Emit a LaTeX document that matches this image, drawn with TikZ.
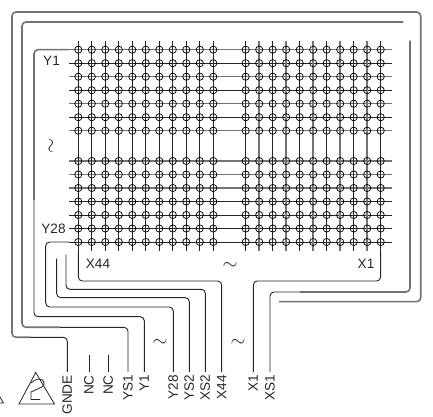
\documentclass[tikz,border=0pt]{standalone}
\usepackage{fontspec}
\setmainfont{Liberation Sans}

\tikzset{
    pad/.style={circle, draw, inner sep=0pt, minimum size=5.4pt, line width=0.55pt},
    wire/.style={draw=black!85, line width=0.7pt, rounded corners=3pt},
    heavywire/.style={draw=black!55, line width=1.2pt, rounded corners=3pt},
    pin/.style={rotate=90, anchor=east, inner sep=2.25pt, font=\fontsize{10.2pt}{11pt}\selectfont, text=black!85},
    tag/.style={inner sep=0pt, font=\fontsize{10.2pt}{11pt}\selectfont, text=black!85},
    wave/.style={inner sep=0pt, font=\fontsize{15pt}{15pt}\selectfont, text=black!85},
}

\begin{document}
\begin{tikzpicture}[x=0.75pt, y=-0.75pt]
    \useasboundingbox (0, 0) rectangle (433, 417);

    % matrix lines and pads
    \foreach \row/\rowstyle in {0/heavywire, 1/wire, 2/heavywire, 3/wire, 4/heavywire, 5/wire, 6/heavywire,
                                7/heavywire, 8/heavywire, 9/heavywire, 10/wire, 11/wire, 12/wire, 13/wire} {
        \pgfmathsetmacro{\rowy}{\row<7 ? 49.7+13.5*\row : 66.5+13.5*\row}
        \coordinate (rowl\row) at (69, \rowy);
        \coordinate (rowr\row) at (391.5, \rowy);
        \draw[\rowstyle] (rowl\row) -- (rowr\row);
    }
    \foreach \col/\colstyle in {0/wire, 1/wire, 2/wire, 3/wire, 4/wire, 5/wire, 6/wire, 7/wire, 8/wire, 9/wire, 10/wire,
                                11/wire, 12/heavywire, 13/wire, 14/heavywire, 15/wire, 16/heavywire,
                                17/wire, 18/heavywire, 19/wire, 20/heavywire, 21/wire} {
        \pgfmathsetmacro{\colx}{\col<11 ? 78.3+13.5*\col : 97.2+13.5*\col}
        \coordinate (colt\col) at (\colx, 40.7);
        \coordinate (colb\col) at (\colx, 251);
        \draw[\colstyle] (colt\col) -- (colb\col);
        \foreach \row in {0,...,13} {
            \pgfmathsetmacro{\rowy}{\row<7 ? 49.7+13.5*\row : 66.5+13.5*\row}
            \node (p\row-\col) at (\colx, \rowy) [pad] {};
        }
    }

    % pin labels
    \node (gnde) at (67.3, 372) [pin] {GNDE};
    \node (nca) at (89, 372) [pin] {NC};
    \node (ncb) at (108.3, 372) [pin] {NC};
    \node (ysa) at (128, 372) [pin] {YS1};
    \node (ya) at (144.3, 372) [pin] {Y1};
    \node (yb) at (173.3, 372) [pin] {Y28};
    \node (ysb) at (189.3, 372) [pin] {YS2};
    \node (xsb) at (205.3, 372) [pin] {XS2};
    \node (xb) at (221.7, 372) [pin] {X44};
    \node (xa) at (253.3, 372) [pin] {X1};
    \node (xsa) at (270, 372) [pin] {XS1};

    % free wire ends
    \coordinate (guardend) at (279, 301.7);
    \coordinate (ringend) at (403.3, 22);
    \coordinate (xstop) at (410, 40.7);
    \coordinate (ysbtop) at (56.7, 258.7);
    \coordinate (xsbtop) at (66, 254.7);
    \coordinate (ncatop) at (89, 354.7);
    \coordinate (ncbtop) at (108.3, 354.7);

    % outer rings
    \draw[heavywire] (guardend) -| (420.7, 12) -| (12, 337.3) -- (30, 337.3);
    \draw[wire] (30, 337.3) -| (gnde.east);
    \draw[heavywire] (ringend) -| (22, 327.3) -- (60, 327.3);
    \draw[wire] (60, 327.3) -| (ysa.east);
    \draw[heavywire] (xstop) |- (300, 292);
    \draw[wire] (300, 292) -| (xsa.east);

    % routed wires
    \draw[heavywire] (rowl0) -| (34, 200);
    \draw[wire] (34, 200) |- (80, 316.7) -| (ya.east);
    \draw[wire] (rowl13) -| (45.7, 307) -| (yb.east);
    \draw[wire] (ysbtop) |- (120, 297.7) -| (ysb.east);
    \draw[wire] (xsbtop) |- (140, 289.3) -| (xsb.east);
    \draw[wire] (colb0) |- (150, 281) -| (xb.east);
    \draw[wire] (colb21) |- (300, 281) -| (xa.east);
    \draw[wire] (ncatop) -- (nca.east);
    \draw[wire] (ncbtop) -- (ncb.east);

    % matrix labels
    \node (yonelabel) at (51.5, 60.5) [tag] {Y1};
    \node (ylastlabel) at (53.5, 229) [tag] {Y28};
    \node (xlastlabel) at (98, 263.5) [tag] {X44};
    \node (xonelabel) at (366, 263.5) [tag] {X1};

    % breaks in the numbering
    \node (breakv) at (52, 146) [wave, rotate=90] {$\sim$};
    \node (breakh) at (230, 266) [wave] {$\sim$};
    \node (breaky) at (160, 343) [wave] {$\sim$};
    \node (breakx) at (238, 343) [wave] {$\sim$};

    % pin one mark
    \draw[line width=0.6pt, black!85] (35.7, 372.5) -- (54.5, 404) -- (19, 404) -- cycle;
    \draw[line width=0.6pt, black!85] (40, 399.5) -- (31, 399.5) -- (31, 392) -- (42, 387)
        .. controls (46, 384) and (44, 379) .. (39, 379) .. controls (36, 379) and (33, 381) .. (31, 383);
    \draw[line width=0.6pt, black!85] (0, 397) -- (3.5, 403) -- (0, 403);
\end{tikzpicture}
\end{document}
